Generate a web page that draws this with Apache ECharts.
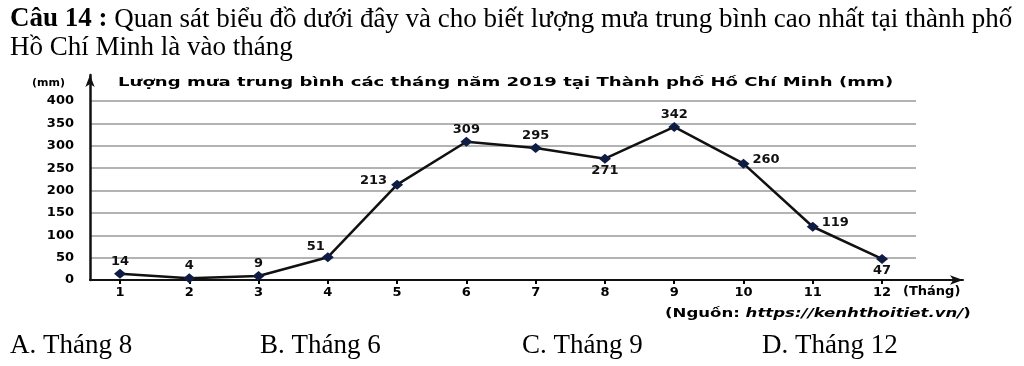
<!DOCTYPE html>
<html>
<head>
<meta charset="utf-8">
<script src="https://cdn.jsdelivr.net/npm/echarts@6/dist/echarts.min.js"></script>
<style>
html,body{margin:0;padding:0;background:#fff;}
#c{width:1024px;height:366px;}
</style>
</head>
<body>
<div id="c"></div>
<script>
// ---- data ----
const months = [1,2,3,4,5,6,7,8,9,10,11,12];
const rainfall = [14,4,9,51,213,309,295,271,342,260,119,47];
const yTicks = [0,50,100,150,200,250,300,350,400];
const chartTitle = 'Lượng mưa trung bình các tháng năm 2019 tại Thành phố Hồ Chí Minh (mm)';
const questionLine1Bold = 'Câu 14 :';
const questionLine1 = ' Quan sát biểu đồ dưới đây và cho biết lượng mưa trung bình cao nhất tại thành phố';
const questionLine2 = 'Hồ Chí Minh là vào tháng';
const answers = ['A. Tháng 8','B. Tháng 6','C. Tháng 9','D. Tháng 12'];
const yUnit = '(mm)';
const xUnit = '(Tháng)';
const sourceLabel = '(Nguồn: ';
const sourceUrl = 'https://kenhthoitiet.vn/';

// ---- presentation ----
const labelPlacement = ['top','top','top','topleft','left','top','top','bottom','top','right','right','bottom'];
const answerX = [10,260,522,762];
const chartFont = '"DejaVu Sans", sans-serif';
const serif = '"Liberation Serif", "Times New Roman", serif';

function labelFor(p){
  if (p==='top') return {position:'top', distance:1};
  if (p==='bottom') return {position:'bottom', distance:0};
  if (p==='left') return {position:'left', distance:4, offset:[0,-4]};
  if (p==='right') return {position:'right', distance:3, offset:[0,-4]};
  if (p==='topleft') return {position:'top', distance:1, offset:[-12,2]};
  return {};
}

const chart = echarts.init(document.getElementById('c'));
const seriesData = months.map((m,i)=>({
  value:[m, rainfall[i]],
  label:labelFor(labelPlacement[i])
}));

const graphics = [
  {type:'text', left:10, top:6, style:{
    rich:{b:{font:'bold 27px '+serif, fill:'#000'}, n:{font:'27px '+serif, fill:'#000'}},
    text:'{b|'+questionLine1Bold+'}{n|'+questionLine1+'}'}},
  {type:'text', left:10, top:34, style:{text:questionLine2, font:'27px '+serif, fill:'#000'}},
  {type:'text', left:32, top:78, style:{text:yUnit, font:'bold 11px '+chartFont, fill:'#000'}},
  {type:'text', x:118, y:76, scaleX:1.39, style:{text:chartTitle, font:'bold 13px '+chartFont, fill:'#000'}},
  {type:'text', left:903, top:285, style:{text:xUnit, font:'bold 13px '+chartFont, fill:'#000'}},
  {type:'text', x:665, y:308, scaleX:1.38, style:{rich:{a:{font:'bold 12px '+chartFont, fill:'#000'}, b:{font:'italic bold 12px '+chartFont, fill:'#000'}}, text:'{a|'+sourceLabel+'}{b|'+sourceUrl+'}{a|)}'}}
];
answers.forEach((t,i)=>graphics.push({type:'text', left:answerX[i], top:332, style:{text:t, font:'27px '+serif, fill:'#000'}}));

chart.setOption({
  animation:false,
  backgroundColor:'#fff',
  graphic:graphics,
  grid:[
    {left:90, right:108, top:101, bottom:86},
    {left:90, right:61, top:75, bottom:86}
  ],
  xAxis:[
    {type:'value', gridIndex:0, min:0.567, max:12.49,
     axisLine:{show:false},
     axisTick:{show:true, customValues:months, length:4, lineStyle:{color:'#000', width:2}},
     axisLabel:{customValues:months, color:'#000', fontFamily:chartFont, fontWeight:'bold', fontSize:13, margin:6},
     splitLine:{show:false}},
    {type:'value', gridIndex:1, min:0, max:1,
     axisLine:{show:true, symbol:['none','arrow'], symbolSize:[7,13], lineStyle:{color:'#111', width:2}},
     axisTick:{show:false}, axisLabel:{show:false}, splitLine:{show:false}}
  ],
  yAxis:[
    {type:'value', gridIndex:0, min:0, max:400, interval:50,
     axisLine:{show:false}, axisTick:{show:false},
     axisLabel:{color:'#000', fontFamily:chartFont, fontWeight:'bold', fontSize:13, margin:16},
     splitLine:{show:true, lineStyle:{color:'#9a9a9a', width:1.5}}},
    {type:'value', gridIndex:1, min:0, max:1,
     axisLine:{show:true, symbol:['none','arrow'], symbolSize:[7,12], lineStyle:{color:'#111', width:2.5}},
     axisTick:{show:false}, axisLabel:{show:false}, splitLine:{show:false}}
  ],
  series:[{
    type:'line', xAxisIndex:0, yAxisIndex:0,
    data:seriesData,
    symbol:'diamond', symbolSize:[12,10],
    itemStyle:{color:'#0f1d45'},
    lineStyle:{color:'#111', width:2.5},
    label:{show:true, color:'#111', fontFamily:chartFont, fontWeight:'bold', fontSize:13,
      formatter:p=>p.value[1]}
  }]
});
</script>
</body>
</html>
